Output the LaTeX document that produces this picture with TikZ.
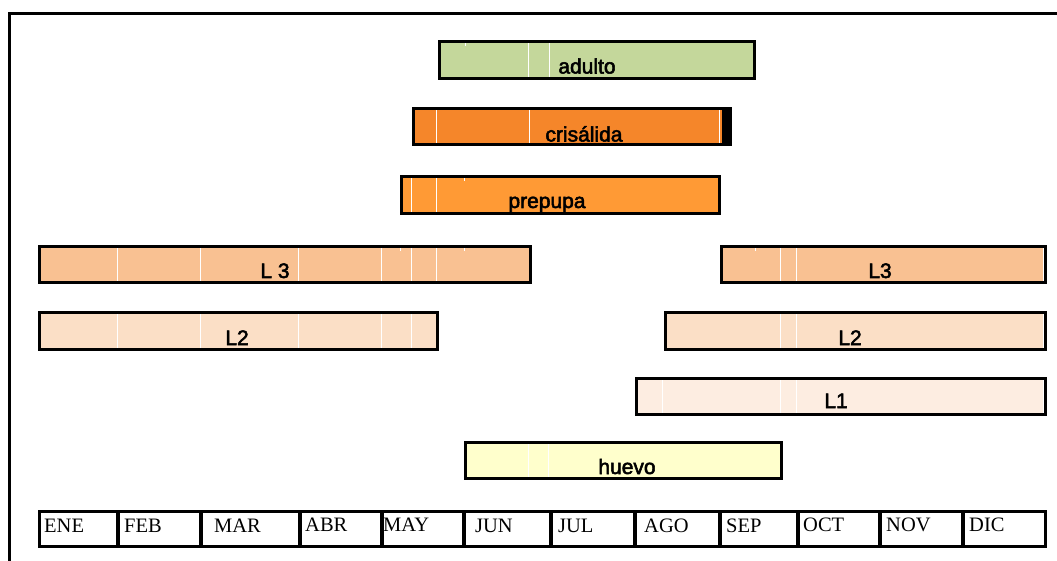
\documentclass[tikz,border=0pt]{standalone}
\usepackage{fontspec}
\setmainfont{Liberation Serif}
\newfontfamily\barfont[FakeBold=2.5]{Liberation Sans}
\definecolor{cadulto}{HTML}{C4D79B}
\definecolor{ccris}{HTML}{F5862A}
\definecolor{cprep}{HTML}{FF9A35}
\definecolor{clthree}{HTML}{F9C192}
\definecolor{cltwo}{HTML}{FBDFC6}
\definecolor{clone}{HTML}{FDEDE1}
\definecolor{chuevo}{HTML}{FFFFCC}
\begin{document}
\begin{tikzpicture}[x=1pt,y=-1pt,
  barbox/.style={draw=black,line width=3.6pt},
  gridline/.style={draw=white,line width=1pt},
  frameline/.style={draw=black,line width=3.4pt},
  barlabel/.style={anchor=base,inner sep=0pt,font=\barfont\fontsize{21}{21}\selectfont},
  monthlabel/.style={anchor=base west,inner sep=0pt,font=\fontsize{20.5}{20.5}\selectfont}]
\useasboundingbox (0,0) rectangle (1057,561);

% frame
\draw[frameline] (9.5,561) -- (9.5,13.5) -- (1057,13.5);

% adulto
\fill[cadulto] (439.5,41.5) rectangle (754.5,78.5);
\foreach \x in {528,549,753} \draw[gridline] (\x,42) -- (\x,78);
\draw[gridline] (465,42) -- (465,46);
\draw[barbox] (439.5,41.5) rectangle (754.5,78.5);
\node[barlabel] (adulto) at (587,73.5) {adulto};

% crisalida
\fill[ccris] (413.5,108.5) rectangle (730.5,144.5);
\fill[black] (722,108) rectangle (731,145);
\foreach \x in {436,529,719} \draw[gridline] (\x,109) -- (\x,144);
\draw[barbox] (413.5,108.5) rectangle (730.5,144.5);
\node[barlabel] (crisalida) at (584,141.5) {crisálida};

% prepupa
\fill[cprep] (401.5,176.5) rectangle (719.5,213.5);
\foreach \x in {411,436,719} \draw[gridline] (\x,177) -- (\x,213);
\draw[gridline] (464,177) -- (464,181);
\draw[barbox] (401.5,176.5) rectangle (719.5,213.5);
\node[barlabel] (prepupa) at (547,208) {prepupa};

% L3 left
\fill[clthree] (39.5,246.5) rectangle (530.5,282.5);
\foreach \x in {117,200,298,381,411,436} \draw[gridline] (\x,247) -- (\x,282);
\foreach \x in {400,464} \draw[gridline] (\x,247) -- (\x,251);
\draw[barbox] (39.5,246.5) rectangle (530.5,282.5);
\node[barlabel] (lthreea) at (275,278) {L 3};

% L3 right
\fill[clthree] (721.5,246.5) rectangle (1045.5,282.5);
\foreach \x in {780,796.5,1043} \draw[gridline] (\x,247) -- (\x,282);
\draw[gridline] (755,247) -- (755,251);
\draw[barbox] (721.5,246.5) rectangle (1045.5,282.5);
\node[barlabel] (lthreeb) at (880,278) {L3};

% L2 left
\fill[cltwo] (39.5,312.5) rectangle (437.5,349.5);
\foreach \x in {117,200,298,381,411} \draw[gridline] (\x,313) -- (\x,349);
\draw[barbox] (39.5,312.5) rectangle (437.5,349.5);
\node[barlabel] (ltwoa) at (237,345) {L2};

% L2 right
\fill[cltwo] (665.5,312.5) rectangle (1045.5,349.5);
\foreach \x in {780,796.5,1043} \draw[gridline] (\x,313) -- (\x,349);
\draw[barbox] (665.5,312.5) rectangle (1045.5,349.5);
\node[barlabel] (ltwob) at (850,345) {L2};

% L1
\fill[clone] (636.5,378.5) rectangle (1045.5,414.5);
\foreach \x in {662,780,796.5,1043} \draw[gridline] (\x,379) -- (\x,414);
\draw[barbox] (636.5,378.5) rectangle (1045.5,414.5);
\node[barlabel] (lone) at (836,408) {L1};

% huevo
\fill[chuevo] (465.5,442.5) rectangle (781.5,478.5);
\foreach \x in {528,548} \draw[gridline] (\x,443) -- (\x,478);
\draw[barbox] (465.5,442.5) rectangle (781.5,478.5);
\node[barlabel] (huevo) at (627,474) {huevo};

% months
\draw[frameline] (39.5,511.5) rectangle (1045.5,546.5);
\foreach \x in {118,201,300,382,464,551,635,720,798,880,963} \draw[frameline] (\x,511.5) -- (\x,546.5);
\node[monthlabel] (ene) at (44,532) {ENE};
\node[monthlabel] (feb) at (124,532) {FEB};
\node[monthlabel] (mar) at (214,532) {MAR};
\node[monthlabel] (abr) at (305,531) {ABR};
\node[monthlabel] (may) at (383,531) {MAY};
\node[monthlabel] (jun) at (475,532) {JUN};
\node[monthlabel] (jul) at (558,532) {JUL};
\node[monthlabel] (ago) at (644,532) {AGO};
\node[monthlabel] (sep) at (726,532) {SEP};
\node[monthlabel] (oct) at (803,531) {OCT};
\node[monthlabel] (nov) at (886,531) {NOV};
\node[monthlabel] (dic) at (969,531) {DIC};
\end{tikzpicture}
\end{document}
